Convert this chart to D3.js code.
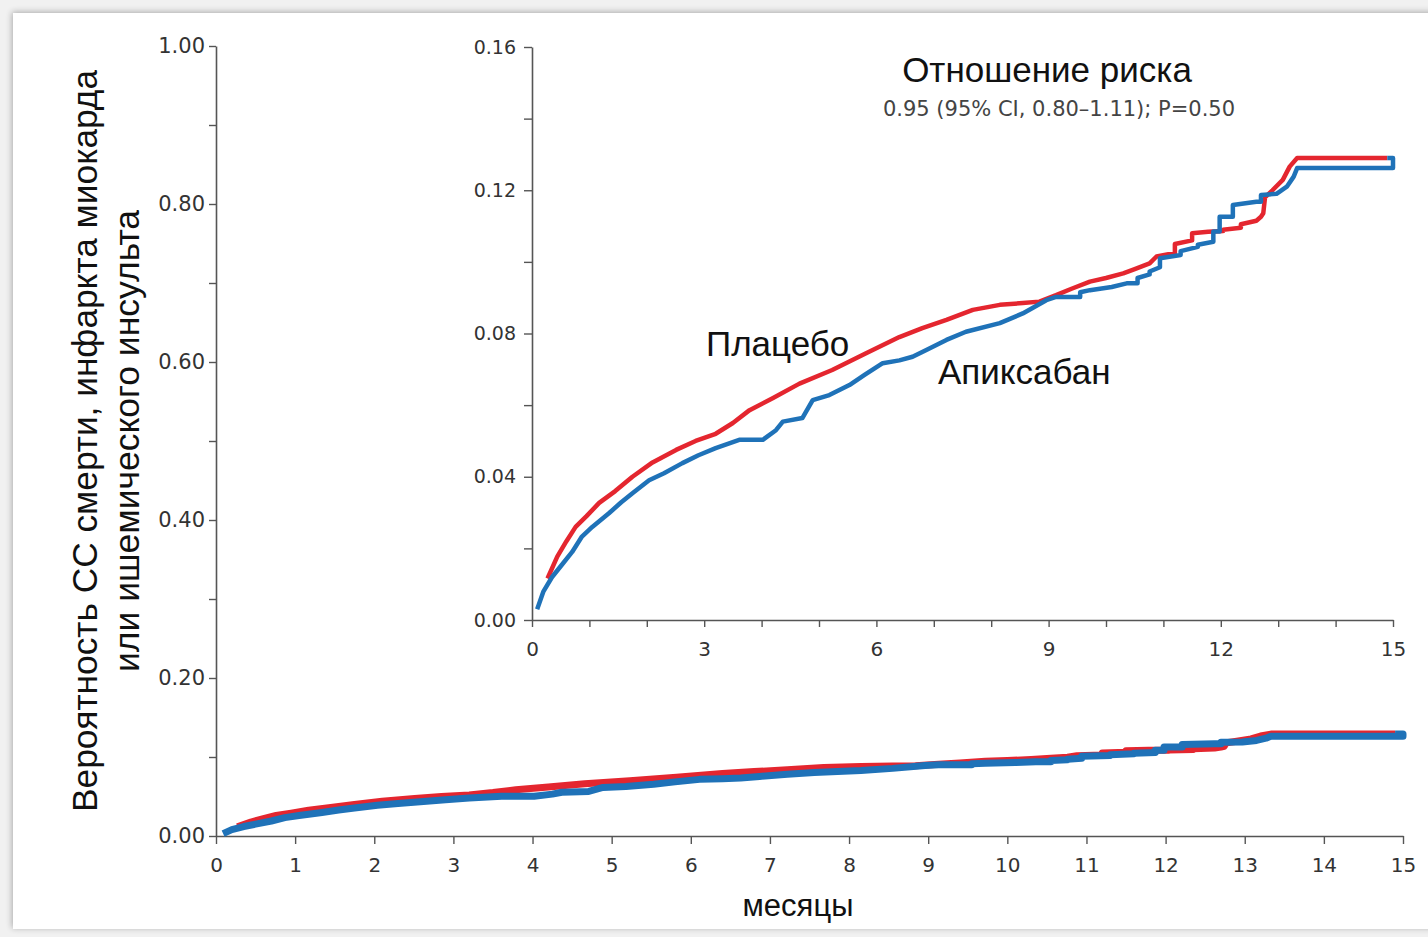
<!DOCTYPE html>
<html lang="ru">
<head>
<meta charset="utf-8">
<script src="https://cdn.jsdelivr.net/npm/d3@7/dist/d3.min.js"></script>
<style>
  html, body { margin: 0; padding: 0; background: #ffffff; }
  svg { display: block; }
  .tick text { font-family: "DejaVu Sans", sans-serif; fill: #333; }
</style>
</head>
<body>
<svg id="chart" width="1428" height="937"></svg>
<script>
// Cumulative probability of CV death, MI or ischemic stroke, by month
// Placebo arm: [month, probability]
const placebo = [
  [0.27, 0.0116], [0.44, 0.0177], [0.60, 0.0220], [0.76, 0.0260], [0.95, 0.0290],
  [1.17, 0.0327], [1.45, 0.0360], [1.75, 0.0400], [2.10, 0.0440], [2.51, 0.0475],
  [2.85, 0.0500], [3.20, 0.0520], [3.50, 0.0550], [3.79, 0.0586], [4.20, 0.0620],
  [4.66, 0.0660], [5.23, 0.0698], [5.82, 0.0745], [6.40, 0.0790], [6.80, 0.0815],
  [7.22, 0.0838], [7.68, 0.0866], [8.15, 0.0880], [8.55, 0.0885], [8.84, 0.0889],
  [9.13, 0.0907], [9.40, 0.0925], [9.72, 0.0945], [10.00, 0.0955], [10.30, 0.0968],
  [10.50, 0.0980], [10.76, 0.0996], [10.88, 0.1015], [11.20, 0.1025], [11.20, 0.1050],
  [11.50, 0.1060], [11.50, 0.1080], [11.78, 0.1084], [12.04, 0.1086], [12.04, 0.1090],
  [12.35, 0.1095], [12.35, 0.1105], [12.62, 0.1115], [12.70, 0.1126], [12.74, 0.1136],
  [12.77, 0.1180], [12.90, 0.1200], [13.08, 0.1229], [13.20, 0.1266], [13.33, 0.1290],
  [14.90, 0.1290]
];
// Apixaban arm: [month, probability]
const apixaban = [
  [0.09, 0.0030], [0.20, 0.0080], [0.35, 0.0120], [0.50, 0.0150], [0.70, 0.0190],
  [0.87, 0.0233], [1.05, 0.0260], [1.34, 0.0298], [1.55, 0.0328], [1.75, 0.0354],
  [2.04, 0.0390], [2.30, 0.0410], [2.62, 0.0438], [2.90, 0.0460], [3.20, 0.0480],
  [3.61, 0.0503], [4.02, 0.0503], [4.25, 0.0530], [4.37, 0.0554], [4.71, 0.0564],
  [4.89, 0.0614], [5.18, 0.0628], [5.53, 0.0656], [5.80, 0.0685], [6.11, 0.0717],
  [6.40, 0.0725], [6.63, 0.0735], [6.87, 0.0754], [7.22, 0.0782], [7.56, 0.0805],
  [8.15, 0.0829], [8.55, 0.0856], [8.96, 0.0893], [9.13, 0.0902], [9.55, 0.0902],
  [9.55, 0.0915], [9.72, 0.0921], [10.10, 0.0930], [10.36, 0.0940], [10.55, 0.0940],
  [10.55, 0.0955], [10.76, 0.0965], [10.76, 0.0973], [10.94, 0.0985], [10.94, 0.1010],
  [11.30, 0.1019], [11.30, 0.1030], [11.60, 0.1042], [11.60, 0.1048], [11.87, 0.1056],
  [11.87, 0.1085], [11.98, 0.1085], [11.98, 0.1126], [12.21, 0.1126], [12.21, 0.1159],
  [12.62, 0.1168], [12.70, 0.1168], [12.70, 0.1187], [12.97, 0.1190], [13.15, 0.1210],
  [13.27, 0.1238], [13.33, 0.1262], [15.00, 0.1262], [15.00, 0.1290], [14.90, 0.1290]
];

const mainYTicks = [0, 0.1, 0.2, 0.3, 0.4, 0.5, 0.6, 0.7, 0.8, 0.9, 1.0];
const mainYLabelled = [0, 0.2, 0.4, 0.6, 0.8, 1.0];
const mainXTicks = d3.range(0, 16);
const insetYTicks = [0, 0.02, 0.04, 0.06, 0.08, 0.10, 0.12, 0.14, 0.16];
const insetYLabelled = [0, 0.04, 0.08, 0.12, 0.16];
const insetXTicks = d3.range(0, 16);
const insetXLabelled = [0, 3, 6, 9, 12, 15];

const yTitle = ["Вероятность СС смерти, инфаркта миокарда", "или ишемического инсульта"];
const xTitle = "месяцы";
const hrTitle = "Отношение риска";
const hrText = "0.95 (95% CI, 0.80–1.11); P=0.50";
const labelPlacebo = "Плацебо";
const labelApixaban = "Апиксабан";

const RED = "#e4262f";
const BLUE = "#1f72b8";
const AXIS = "#555";

const svg = d3.select("#chart");

// page frame with soft shadow along the top and left
const defs = svg.append("defs");
const sh = defs.append("filter").attr("id", "shadow").attr("x", "-5%").attr("y", "-5%").attr("width", "110%").attr("height", "110%");
sh.append("feGaussianBlur").attr("in", "SourceAlpha").attr("stdDeviation", 3).attr("result", "b");
sh.append("feOffset").attr("in", "b").attr("dx", -1).attr("dy", -1).attr("result", "o");
sh.append("feComponentTransfer").attr("in", "o").attr("result", "s")
  .append("feFuncA").attr("type", "linear").attr("slope", 0.3);
const fm = sh.append("feMerge");
fm.append("feMergeNode").attr("in", "s");
fm.append("feMergeNode").attr("in", "SourceGraphic");

svg.append("rect").attr("width", 1428).attr("height", 937).attr("fill", "#f1f1f1");
svg.append("rect").attr("x", 13).attr("y", 13).attr("width", 1430).attr("height", 916)
  .attr("fill", "#ffffff").attr("filter", "url(#shadow)");

function styleAxis(g) {
  g.select(".domain").attr("stroke", AXIS).attr("stroke-width", 1.6);
  g.selectAll(".tick line").attr("stroke", AXIS).attr("stroke-width", 1.4);
}

// ---------- main chart ----------
const x = d3.scaleLinear().domain([0, 15]).range([216, 1403]);
const y = d3.scaleLinear().domain([0, 1]).range([836, 46]);

const gy = svg.append("g").attr("transform", `translate(${x(0)},0)`)
  .call(d3.axisLeft(y).tickValues(mainYTicks).tickSize(7).tickSizeOuter(0).tickPadding(4)
    .tickFormat(d => mainYLabelled.some(v => Math.abs(v - d) < 1e-9) ? d3.format(".2f")(d) : ""));
styleAxis(gy);
gy.selectAll(".tick text").attr("font-size", 21);

const gx = svg.append("g").attr("transform", `translate(0,${y(0)})`)
  .call(d3.axisBottom(x).tickValues(mainXTicks).tickSize(8).tickSizeOuter(0).tickPadding(14)
    .tickFormat(d3.format("d")));
styleAxis(gx);
gx.selectAll(".tick text").attr("font-size", 20);

const lineMain = d3.line().x(d => x(d[0])).y(d => y(d[1]));
svg.append("path").datum(placebo).attr("d", lineMain)
  .attr("fill", "none").attr("stroke", RED).attr("stroke-width", 7).attr("stroke-linejoin", "round");
svg.append("path").datum(apixaban).attr("d", lineMain)
  .attr("fill", "none").attr("stroke", BLUE).attr("stroke-width", 7).attr("stroke-linejoin", "round");

// axis titles
const sans = "'Liberation Sans', Arial, sans-serif";
svg.append("text").attr("transform", "translate(97,441) rotate(-90)")
  .attr("text-anchor", "middle").attr("font-family", sans).attr("font-size", 35).attr("fill", "#111")
  .attr("textLength", 742).attr("lengthAdjust", "spacingAndGlyphs")
  .text(yTitle[0]);
svg.append("text").attr("transform", "translate(139,441) rotate(-90)")
  .attr("text-anchor", "middle").attr("font-family", sans).attr("font-size", 35).attr("fill", "#111")
  .attr("textLength", 462).attr("lengthAdjust", "spacingAndGlyphs")
  .text(yTitle[1]);
svg.append("text").attr("x", 798).attr("y", 916)
  .attr("text-anchor", "middle").attr("font-family", sans).attr("font-size", 31).attr("fill", "#111")
  .text(xTitle);

// ---------- inset: zoomed y range ----------
const xi = d3.scaleLinear().domain([0, 15]).range([532, 1393]);
const yi = d3.scaleLinear().domain([0, 0.16]).range([620, 47]);

const giy = svg.append("g").attr("transform", `translate(${xi(0)},0)`)
  .call(d3.axisLeft(yi).tickValues(insetYTicks).tickSize(8).tickSizeOuter(0).tickPadding(8)
    .tickFormat(d => insetYLabelled.some(v => Math.abs(v - d) < 1e-9) ? d3.format(".2f")(d) : ""));
styleAxis(giy);
giy.selectAll(".tick text").attr("font-size", 19);

const gix = svg.append("g").attr("transform", `translate(0,${yi(0)})`)
  .call(d3.axisBottom(xi).tickValues(insetXTicks).tickSize(7).tickSizeOuter(0).tickPadding(15)
    .tickFormat(d => insetXLabelled.includes(d) ? d3.format("d")(d) : ""));
styleAxis(gix);
gix.selectAll(".tick text").attr("font-size", 20);

const lineInset = d3.line().x(d => xi(d[0])).y(d => yi(d[1]));
svg.append("path").datum(placebo).attr("d", lineInset)
  .attr("fill", "none").attr("stroke", RED).attr("stroke-width", 4.5).attr("stroke-linejoin", "round");
svg.append("path").datum(apixaban).attr("d", lineInset)
  .attr("fill", "none").attr("stroke", BLUE).attr("stroke-width", 4.5).attr("stroke-linejoin", "round");

// hazard ratio annotation and series labels
svg.append("text").attr("x", 1047).attr("y", 82)
  .attr("text-anchor", "middle").attr("font-family", sans).attr("font-size", 35).attr("fill", "#111")
  .text(hrTitle);
svg.append("text").attr("x", 1059).attr("y", 116)
  .attr("text-anchor", "middle").attr("font-family", "'DejaVu Sans', sans-serif").attr("font-size", 21).attr("fill", "#444")
  .text(hrText);
svg.append("text").attr("x", 706).attr("y", 356)
  .attr("font-family", sans).attr("font-size", 35).attr("fill", "#111").text(labelPlacebo);
svg.append("text").attr("x", 938).attr("y", 384)
  .attr("font-family", sans).attr("font-size", 35).attr("fill", "#111").text(labelApixaban);
</script>
</body>
</html>
